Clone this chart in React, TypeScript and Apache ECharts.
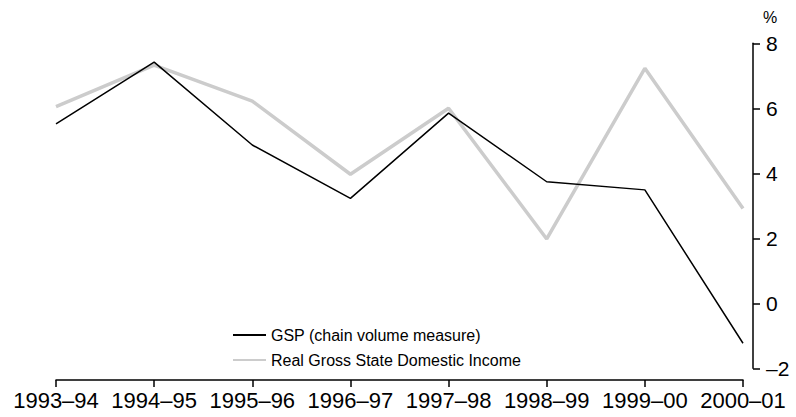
import React, { useEffect, useRef } from "react";
import * as echarts from "echarts";

const categories = ["1993–94", "1994–95", "1995–96", "1996–97", "1997–98", "1998–99", "1999–00", "2000–01"];
const gspValues = [5.52, 7.42, 4.87, 3.23, 5.85, 3.74, 3.49, -1.23];
const incomeValues = [6.05, 7.33, 6.22, 3.97, 6.0, 1.98, 7.23, 2.92];
const yTicks = { min: -2, max: 8, interval: 2 };
const seriesNames = ["GSP (chain volume measure)", "Real Gross State Domestic Income"];

const FONT = "'Liberation Sans', Arial, sans-serif";

export default function App() {
  const ref = useRef<HTMLDivElement>(null);
  useEffect(() => {
    if (!ref.current) return;
    const chart = echarts.init(ref.current, undefined, { renderer: "svg" });
    chart.setOption({
      animation: false,
      backgroundColor: "#ffffff",
      textStyle: { fontFamily: FONT },
      grid: { left: 56, right: 53, top: 43.3, bottom: 48.7, containLabel: false },
      legend: {
        orient: "vertical",
        left: 232,
        top: 327,
        padding: 0,
        itemWidth: 33,
        itemHeight: 14,
        itemGap: 9,
        itemStyle: { opacity: 0 },
        textStyle: { fontFamily: FONT, fontSize: 16, color: "#000" },
        data: seriesNames,
      },
      xAxis: {
        type: "category",
        data: categories,
        boundaryGap: false,
        position: "bottom",
        offset: 11.7,
        axisLine: { show: true, onZero: false, lineStyle: { color: "#000", width: 1.5 } },
        axisTick: { show: true, inside: false, length: 7, lineStyle: { color: "#000", width: 1.5 } },
        axisLabel: { fontFamily: FONT, fontSize: 22, color: "#000", margin: 9, interval: 0 },
        splitLine: { show: false },
      },
      yAxis: {
        type: "value",
        position: "right",
        offset: 10,
        min: yTicks.min,
        max: yTicks.max,
        interval: yTicks.interval,
        name: "%",
        nameLocation: "end",
        nameGap: 18,
        nameTextStyle: { fontFamily: FONT, fontSize: 16, color: "#000", align: "left", padding: [0, 0, 0, 10] },
        axisLine: { show: true, onZero: false, lineStyle: { color: "#000", width: 1.5 } },
        axisTick: { show: true, inside: false, length: 7, lineStyle: { color: "#000", width: 1.5 } },
        axisLabel: {
          fontFamily: FONT,
          fontSize: 21,
          color: "#000",
          margin: 13,
          padding: [0, 0, 3, 0],
          formatter: (v: number) => String(v).replace("-", "–"),
        },
        splitLine: { show: false },
      },
      series: [
        {
          name: seriesNames[0],
          type: "line",
          data: gspValues,
          symbol: "none",
          z: 3,
          lineStyle: { color: "#000000", width: 1.5 },
          itemStyle: { color: "#000000" },
        },
        {
          name: seriesNames[1],
          type: "line",
          data: incomeValues,
          symbol: "none",
          z: 2,
          lineStyle: { color: "#cccccc", width: 3.5 },
          itemStyle: { color: "#cccccc" },
        },
      ],
    });
    return () => chart.dispose();
  }, []);
  return <div ref={ref} style={{ width: 796, height: 417, position: "absolute", left: 0, top: 0 }} />;
}
